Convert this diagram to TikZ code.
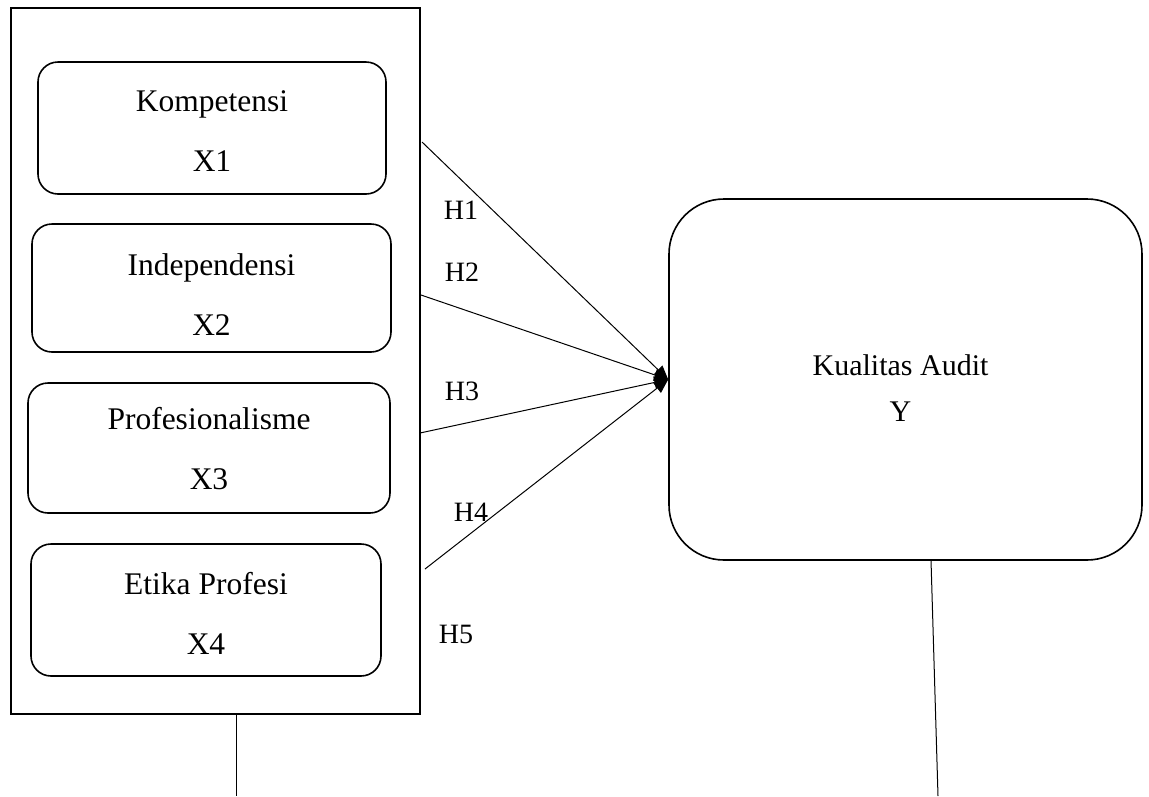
\documentclass[tikz,border=0pt]{standalone}
\usepackage{fontspec}
\setmainfont{Liberation Serif}
\usetikzlibrary{arrows.meta}
\begin{document}
\begin{tikzpicture}[x=1pt,y=-1pt,
  varbox/.style={draw, line width=1.6pt, rounded corners=20pt, inner sep=0pt},
  boxtext/.style={align=center, inner sep=0pt, font=\fontsize{31.5}{60}\selectfont},
  hlab/.style={font=\fontsize{28}{30}\selectfont, inner sep=0pt},
  conn/.style={line width=1pt},
  arr/.style={conn, -{Triangle[length=14pt,width=12pt]}}]
\useasboundingbox (0,0) rectangle (1149,796);
% outer frame
\node[draw, line width=2.6pt, minimum width=409pt, minimum height=706pt, inner sep=0pt] (outer) at (215.5,361) {};
% variable boxes
\node[varbox, minimum width=348pt, minimum height=132pt] (x1) at (212,128) {};
\node[varbox, minimum width=359pt, minimum height=128pt] (x2) at (211.5,288) {};
\node[varbox, minimum width=362pt, minimum height=130pt] (x3) at (209,448) {};
\node[varbox, minimum width=350pt, minimum height=132pt] (x4) at (206,610) {};
\node[boxtext] (x1t) at ([yshift=-3pt]x1.center) {Kompetensi\\X1};
\node[boxtext] (x2t) at ([yshift=-7pt]x2.center) {Independensi\\X2};
\node[boxtext] (x3t) at ([yshift=-1pt]x3.center) {Profesionalisme\\X3};
\node[boxtext] (x4t) at ([yshift=-3pt]x4.center) {Etika Profesi\\X4};
% dependent
\node[draw, line width=1.6pt, rounded corners=55pt, minimum width=473pt, minimum height=361pt,
  inner sep=0pt] (y) at (905.5,379.5) {};
\node[boxtext, font=\fontsize{30}{46}\selectfont] (yt) at ([xshift=-5pt,yshift=-9pt]y.center) {Kualitas Audit\\Y};
% arrow starts
\coordinate (s1) at (422,142);
\coordinate (s2) at (421,295);
\coordinate (s3) at (420,433);
\coordinate (s4) at (425,569);
\draw[arr] (s1) -- (y.west);
\draw[arr] (s2) -- (y.west);
\draw[arr] (s3) -- (y.west);
\draw[arr] (s4) -- (y.west);
% labels
\node[hlab] (h1) at (461,210) {H1};
\node[hlab] (h2) at (462,272) {H2};
\node[hlab] (h3) at (462,391) {H3};
\node[hlab] (h4) at (471,512) {H4};
\node[hlab] (h5) at (456,634) {H5};
% bottom lines
\coordinate (b1) at (236,796);
\draw[conn] (outer.south -| b1) -- (b1);
\coordinate (t2) at (931,560);
\coordinate (b2) at (938,796);
\draw[conn] (t2) -- (b2);
\end{tikzpicture}
\end{document}
